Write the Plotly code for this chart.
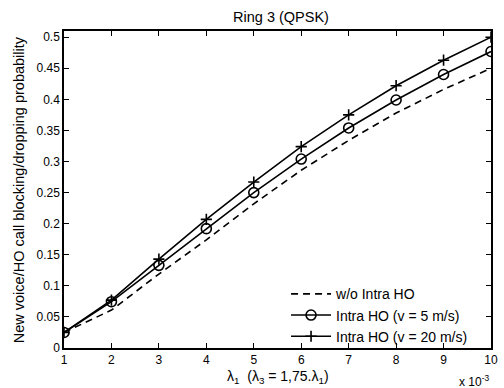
import plotly.graph_objects as go

lam1 = [1, 2, 3, 4, 5, 6, 7, 8, 9, 10]
wo_intra = [0.025, 0.061, 0.119, 0.174, 0.232, 0.286, 0.334, 0.378, 0.416, 0.450]
intra_5 = [0.025, 0.0745, 0.133, 0.192, 0.250, 0.304, 0.354, 0.399, 0.440, 0.477]
intra_20 = [0.025, 0.077, 0.143, 0.207, 0.267, 0.324, 0.375, 0.422, 0.463, 0.500]
names = ["w/o Intra HO", "Intra HO (v = 5 m/s)", "Intra HO (v = 20 m/s)"]
yticks = [0, 0.05, 0.1, 0.15, 0.2, 0.25, 0.3, 0.35, 0.4, 0.45, 0.5]
ytick_text = ["0", "0.05", "0.1", "0.15", "0.2", "0.25", "0.3", "0.35", "0.4", "0.45", "0.5"]

fig = go.Figure()
fig.add_trace(go.Scatter(x=lam1, y=wo_intra, mode="lines", name=names[0],
                         line=dict(color="black", width=1.6, dash="7px,5px")))
fig.add_trace(go.Scatter(x=lam1, y=intra_5, mode="lines+markers", name=names[1],
                         line=dict(color="black", width=1.6),
                         marker=dict(symbol="circle-open", size=10, color="black",
                                     line=dict(width=1.6, color="black"))))
fig.add_trace(go.Scatter(x=lam1, y=intra_20, mode="lines+markers", name=names[2],
                         line=dict(color="black", width=1.6),
                         marker=dict(symbol="cross-thin-open", size=8, color="black",
                                     line=dict(width=1.6, color="black"))))

font = "Liberation Sans, Arial, sans-serif"
fig.update_layout(
    width=504, height=388,
    margin=dict(l=64, r=6, t=31, b=40),
    paper_bgcolor="white", plot_bgcolor="white",
    font=dict(family=font, size=12, color="black"),
    showlegend=True,
    legend=dict(x=0.52, y=0.22, xanchor="left", yanchor="top",
                bgcolor="rgba(255,255,255,0)", borderwidth=0,
                font=dict(size=14), itemwidth=40, tracegroupgap=0),
    title=dict(text="Ring 3 (QPSK)", x=(64 + 498) / 2 / 504, xanchor="center",
               y=1 - 17 / 388, yanchor="middle", font=dict(size=14.5)),
)
fig.update_xaxes(range=[1, 10], tickvals=lam1, ticks="inside", ticklen=5,
                 tickwidth=1, tickcolor="black", showgrid=False, zeroline=False,
                 showline=True, linecolor="black", linewidth=1.5, mirror="ticks",
                 tickfont=dict(size=12))
fig.update_yaxes(range=[0, 0.51], tickvals=yticks, ticktext=ytick_text,
                 ticks="inside", ticklen=5, tickwidth=1, tickcolor="black",
                 showgrid=False, zeroline=False, showline=True, linecolor="black",
                 linewidth=1.5, mirror="ticks", tickfont=dict(size=12))

fig.add_annotation(text="λ<sub>1</sub>  (λ<sub>3</sub> = 1,75.λ<sub>1</sub>)",
                   xref="paper", yref="paper", x=0.5, y=-29 / 317, xanchor="center",
                   yanchor="middle", showarrow=False, font=dict(size=14))
fig.add_annotation(text="x 10<sup>-3</sup>", xref="paper", yref="paper",
                   x=1.0, y=-33 / 317, xanchor="right", yanchor="middle",
                   showarrow=False, font=dict(size=12))
fig.add_annotation(text="New voice/HO call blocking/dropping probability",
                   xref="paper", yref="paper", x=-46 / 434, y=0.5, textangle=-90,
                   xanchor="center", yanchor="middle", showarrow=False,
                   font=dict(size=14.5))

fig.write_html("out.html", config={"displayModeBar": False},
               post_script="document.body.style.margin='0';document.body.style.padding='0';")
